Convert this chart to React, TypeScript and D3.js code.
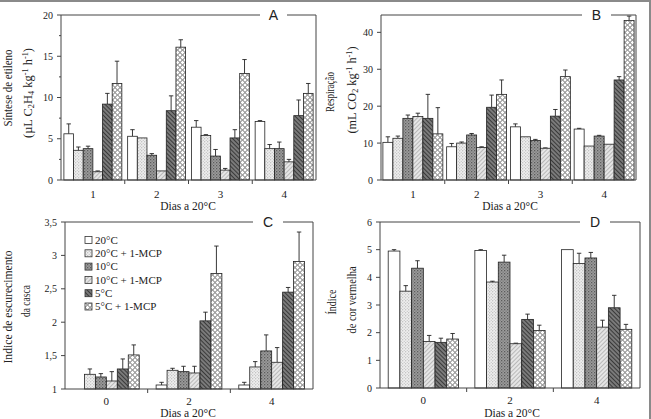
import React from 'react';
import * as d3 from 'd3';

const seriesNames = ['20°C', '20°C + 1-MCP', '10°C', '10°C + 1-MCP', '5°C', '5°C + 1-MCP'];
const daysAB = ['1', '2', '3', '4'];
const daysCD = ['0', '2', '4'];

// Panel A: ethylene synthesis (rows = days, cols = series)
const etilenoMean = [
  [5.6, 3.6, 3.8, 1.0, 9.2, 11.7],
  [5.3, 5.1, 3.0, 1.1, 8.4, 16.1],
  [6.4, 5.4, 2.9, 1.2, 5.1, 12.9],
  [7.1, 3.8, 3.8, 2.2, 7.8, 10.5],
];
const etilenoErr = [
  [1.2, 0.4, 0.3, 0.1, 1.3, 2.7],
  [0.8, 0.0, 0.2, 0.0, 1.8, 0.9],
  [0.8, 0.1, 0.8, 0.2, 1.0, 1.7],
  [0.1, 0.5, 0.8, 0.3, 1.9, 1.2],
];
// Panel B: respiration
const respMean = [
  [10.2, 11.3, 16.7, 17.2, 16.7, 12.5],
  [9.0, 10.0, 12.2, 8.8, 19.7, 23.2],
  [14.4, 11.7, 10.7, 8.6, 17.3, 28.0],
  [13.8, 9.2, 11.9, 9.7, 27.1, 43.2],
];
const respErr = [
  [1.5, 0.6, 0.9, 0.9, 6.5, 7.1],
  [0.9, 0.3, 0.4, 0.2, 3.3, 3.9],
  [0.8, 0.0, 0.3, 0.1, 1.8, 1.8],
  [0.2, 0.0, 0.2, 0.0, 0.9, 1.2],
];
// Panel C: peel browning index
const escurMean = [
  [1.0, 1.22, 1.18, 1.12, 1.30, 1.51],
  [1.06, 1.28, 1.26, 1.24, 2.02, 2.73],
  [1.06, 1.33, 1.57, 1.40, 2.45, 2.91],
];
const escurErr = [
  [0.0, 0.08, 0.05, 0.14, 0.15, 0.15],
  [0.04, 0.03, 0.08, 0.10, 0.13, 0.41],
  [0.04, 0.08, 0.24, 0.22, 0.07, 0.44],
];
// Panel D: red colour index
const corMean = [
  [4.95, 3.5, 4.33, 1.68, 1.65, 1.77],
  [4.97, 3.83, 4.55, 1.6, 2.48, 2.08],
  [5.0, 4.5, 4.7, 2.2, 2.9, 2.12],
];
const corErr = [
  [0.05, 0.2, 0.27, 0.22, 0.15, 0.2],
  [0.03, 0.03, 0.25, 0.02, 0.19, 0.19],
  [0.0, 0.37, 0.2, 0.25, 0.45, 0.18],
];

const ticksA = [0, 5, 10, 15, 20];
const ticksB = [0, 10, 20, 30, 40];
const ticksC = [1, 1.5, 2, 2.5, 3, 3.5];
const ticksD = [0, 1, 2, 3, 4, 5, 6];

const fills = ['#ffffff', 'url(#p1)', 'url(#p2)', 'url(#p3)', 'url(#p4)', 'url(#p5)'];
const SERIF = "'Liberation Serif', 'Times New Roman', serif";
const SANS = "'Liberation Sans', Arial, sans-serif";
const AX = '#444';

type PanelProps = {
  left: number; right: number; top: number; bottom: number;
  domain: [number, number]; ticks: number[]; minor?: number[];
  fmt: (v: number) => string;
  cats: string[]; means: number[][]; errs: number[][];
  pad: number; letter: string; gap: [number, number];
  tickBase: number; title: { x: number; y: number };
};

function Panel(p: PanelProps) {
  const y = d3.scaleLinear().domain(p.domain).range([p.bottom, p.top]);
  const gx = d3.scaleBand<string>().domain(p.cats).range([p.left, p.right]).padding(0);
  const sx = d3.scaleBand<string>().domain(seriesNames).range([0, gx.bandwidth()]).paddingInner(0).paddingOuter(p.pad);
  const bw = sx.bandwidth();
  return (
    <g>
      {p.cats.map((c, gi) => (
        <g key={c}>
          {seriesNames.map((s, si) => {
            const v = p.means[gi][si];
            const e = p.errs[gi][si];
            const x = (gx(c) as number) + (sx(s) as number);
            const cx = x + bw / 2;
            return (
              <g key={s}>
                {e > 0 && (
                  <g stroke="#222" strokeWidth={0.9}>
                    <line x1={cx} x2={cx} y1={y(v)} y2={y(v + e)} />
                    <line x1={cx - 2.2} x2={cx + 2.2} y1={y(v + e)} y2={y(v + e)} />
                  </g>
                )}
                <rect x={x} y={y(v)} width={bw} height={p.bottom - y(v)} fill={fills[si]} stroke="#222" strokeWidth={0.8} />
              </g>
            );
          })}
        </g>
      ))}
      {/* frame */}
      <g stroke={AX} strokeWidth={1} fill="none">
        <line x1={p.left} x2={p.left} y1={p.top} y2={p.bottom} />
        <line x1={p.left} x2={p.right} y1={p.bottom} y2={p.bottom} />
        <line x1={p.right} x2={p.right} y1={p.top} y2={p.bottom} />
        <line x1={p.left} x2={p.gap[0]} y1={p.top} y2={p.top} />
        <line x1={p.gap[1]} x2={p.right} y1={p.top} y2={p.top} />
        {p.ticks.map((t) => (
          <line key={'t' + t} x1={p.left - 4} x2={p.left} y1={y(t)} y2={y(t)} />
        ))}
        {(p.minor || []).map((t) => (
          <line key={'m' + t} x1={p.left - 2} x2={p.left} y1={y(t)} y2={y(t)} />
        ))}
        {p.cats.slice(1).map((c) => (
          <line key={'x' + c} x1={gx(c) as number} x2={gx(c) as number} y1={p.bottom} y2={p.bottom + 4} />
        ))}
      </g>
      <g fontFamily={SERIF} fontSize={10} fill="#222">
        {p.ticks.map((t) => (
          <text key={'l' + t} x={p.left - 8} y={y(t)} dy="0.35em" textAnchor="end">{p.fmt(t)}</text>
        ))}
        {p.cats.map((c) => (
          <text key={'c' + c} x={(gx(c) as number) + gx.bandwidth() / 2} y={p.tickBase} textAnchor="middle" fontSize={11}>{c}</text>
        ))}
        <text x={p.title.x} y={p.title.y} textAnchor="middle" fontSize={11.5}>Dias a 20°C</text>
      </g>
      <text x={(p.gap[0] + p.gap[1]) / 2} y={p.top + 5} textAnchor="middle" fontFamily={SANS} fontSize={14} fill="#222">{p.letter}</text>
    </g>
  );
}

function VLabel({ x, y, len, children }: { x: number; y: number; len: number; children: React.ReactNode }) {
  return (
    <text transform={`translate(${x},${y}) rotate(-90)`} textAnchor="middle" fontFamily={SERIF} fontSize={13.5} fill="#222"
      textLength={len} lengthAdjust="spacingAndGlyphs">{children}</text>
  );
}

export default function App() {
  const fmtComma = (v: number) => String(v).replace('.', ',');
  const fmtInt = (v: number) => String(v);
  return (
    <svg width={651} height={419} style={{ position: 'absolute', left: 0, top: 0, background: '#fff' }}>
      <defs>
        <pattern id="p1" patternUnits="userSpaceOnUse" width={3} height={3}>
          <rect width={3} height={3} fill="#eeeeee" />
          <circle cx={0.75} cy={0.75} r={0.55} fill="#9a9a9a" />
          <circle cx={2.25} cy={2.25} r={0.55} fill="#b5b5b5" />
        </pattern>
        <pattern id="p2" patternUnits="userSpaceOnUse" width={3} height={3}>
          <rect width={3} height={3} fill="#9c9c9c" />
          <rect x={0} y={0} width={1.3} height={1.3} fill="#5c5c5c" />
          <rect x={1.5} y={1.5} width={1.3} height={1.3} fill="#777" />
        </pattern>
        <pattern id="p3" patternUnits="userSpaceOnUse" width={3} height={3} patternTransform="rotate(45)">
          <rect width={3} height={3} fill="#e6e6e6" />
          <line x1={0} y1={0} x2={0} y2={3} stroke="#8a8a8a" strokeWidth={1} />
        </pattern>
        <pattern id="p4" patternUnits="userSpaceOnUse" width={3} height={3} patternTransform="rotate(-45)">
          <rect width={3} height={3} fill="#7a7a7a" />
          <line x1={0} y1={0} x2={0} y2={3} stroke="#1e1e1e" strokeWidth={1.4} />
        </pattern>
        <pattern id="p5" patternUnits="userSpaceOnUse" width={5} height={5}>
          <rect width={5} height={5} fill="#ffffff" />
          <circle cx={2.5} cy={2.5} r={2} fill="none" stroke="#777" strokeWidth={0.9} />
        </pattern>
      </defs>
      {/* outer frame */}
      <line x1={0} x2={651} y1={1} y2={1} stroke="#8a8a8a" strokeWidth={2} />
      <line x1={650} x2={650} y1={0} y2={419} stroke="#8a8a8a" strokeWidth={2} />

      <Panel left={61} right={316} top={15} bottom={180} domain={[0, 20]} ticks={ticksA}
        minor={[2.5, 7.5, 12.5, 17.5]} fmt={fmtInt}
        cats={daysAB} means={etilenoMean} errs={etilenoErr} pad={0.3} letter="A" gap={[260, 287]}
        tickBase={198} title={{ x: 188, y: 210 }} />
      <Panel left={381} right={636} top={15} bottom={180} domain={[0, 44.7]} ticks={ticksB}
        fmt={fmtInt}
        cats={daysAB} means={respMean} errs={respErr} pad={0.19} letter="B" gap={[582, 611]}
        tickBase={198} title={{ x: 510, y: 210 }} />
      <Panel left={65} right={313} top={222} bottom={389} domain={[1, 3.5]} ticks={ticksC}
        fmt={fmtComma}
        cats={daysCD} means={escurMean} errs={escurErr} pad={0.77} letter="C" gap={[253, 283]}
        tickBase={405} title={{ x: 188, y: 417 }} />
      <Panel left={380} right={640} top={222} bottom={388} domain={[0, 6]} ticks={ticksD}
        fmt={fmtInt}
        cats={daysCD} means={corMean} errs={corErr} pad={0.7} letter="D" gap={[580, 610]}
        tickBase={404} title={{ x: 512, y: 417 }} />

      {/* Y axis labels */}
      <VLabel x={12} y={88} len={77}>Síntese de etileno</VLabel>
      <VLabel x={32} y={93} len={90}>
        (µL C<tspan fontSize={9} dy={2}>2</tspan><tspan dy={-2}>H</tspan><tspan fontSize={9} dy={2}>4</tspan><tspan dy={-2}> kg</tspan><tspan fontSize={9} dy={-4}>-1</tspan><tspan dy={4}> h</tspan><tspan fontSize={9} dy={-4}>-1</tspan><tspan dy={4}>)</tspan>
      </VLabel>
      <VLabel x={334} y={92} len={40}>Respiração</VLabel>
      <VLabel x={356} y={90} len={87}>
        (mL CO<tspan fontSize={9} dy={2}>2</tspan><tspan dy={-2}> kg</tspan><tspan fontSize={9} dy={-4}>-1</tspan><tspan dy={4}> h</tspan><tspan fontSize={9} dy={-4}>-1</tspan><tspan dy={4}>)</tspan>
      </VLabel>
      <VLabel x={12} y={307} len={113}>Indice de escurecimento</VLabel>
      <VLabel x={30} y={301} len={32}>da casca</VLabel>
      <VLabel x={336} y={302} len={25}>Índice</VLabel>
      <VLabel x={356} y={300} len={67}>de cor vermelha</VLabel>

      {/* Legend */}
      <g fontFamily={SERIF} fontSize={11} fill="#222">
        {seriesNames.map((s, i) => {
          const cy = 240 + i * 13.3;
          return (
            <g key={s}>
              <rect x={85} y={cy - 3.5} width={7} height={7} fill={fills[i]} stroke="#333" strokeWidth={0.8} />
              <text x={95} y={cy} dy="0.35em">{s}</text>
            </g>
          );
        })}
      </g>
    </svg>
  );
}
